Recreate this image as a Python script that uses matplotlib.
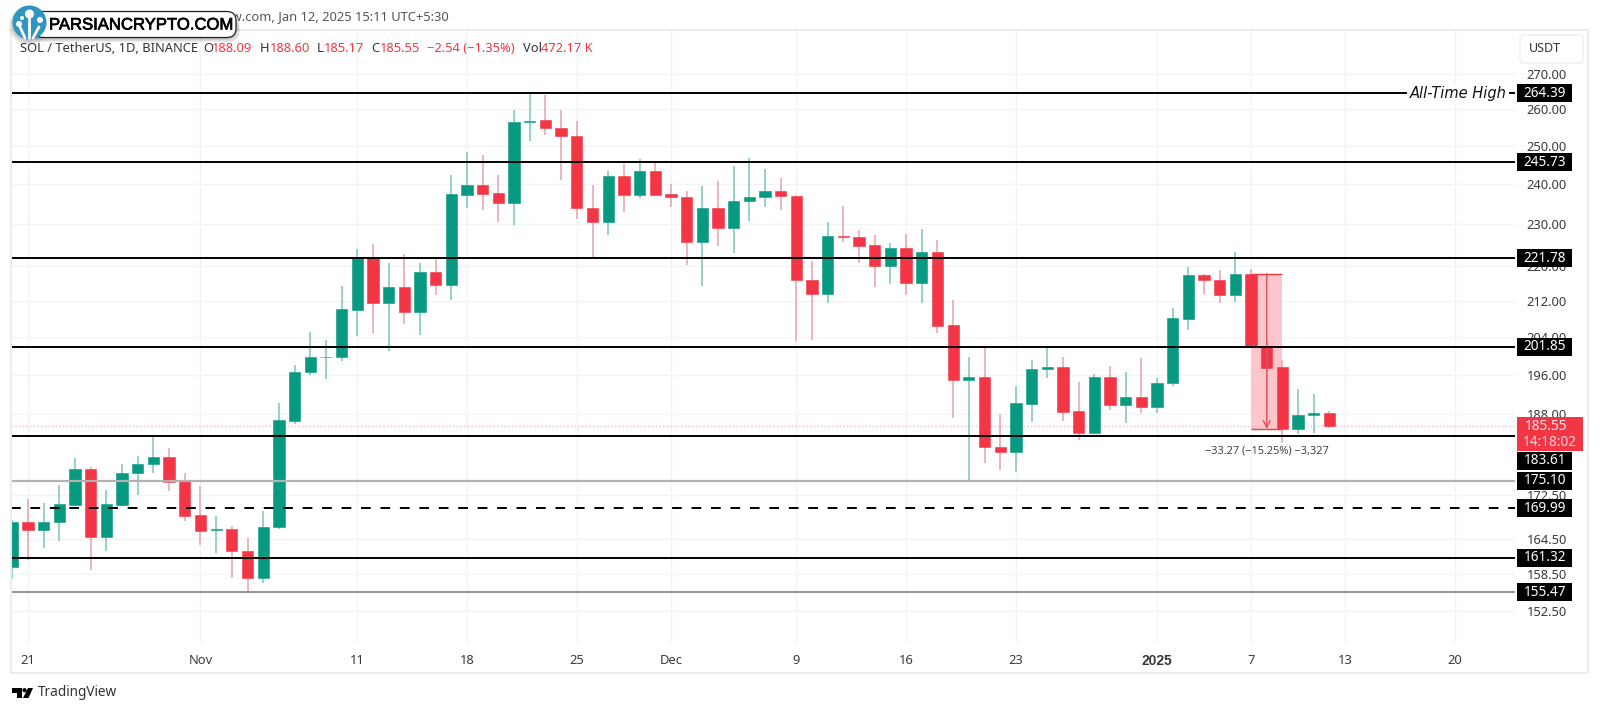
import matplotlib
matplotlib.use('Agg')
import matplotlib.pyplot as plt
import matplotlib.patches as mpatches
import matplotlib.patheffects as pe
from matplotlib.ticker import NullLocator, NullFormatter

# daily candles, first one is Oct 20 (day -1), Oct 21 is day 0
opens = [159.8, 167.5, 166.2, 167.6, 170.7, 177.3, 164.9, 170.7, 176.6, 178.3, 179.5, 175.0, 168.8, 166.2, 166.3, 162.4, 157.9,
         166.6, 186.6, 196.5, 199.7, 199.8, 210.0, 222.1, 211.6, 215.1, 209.6, 218.5, 215.7, 237.4, 239.8, 237.7, 235.3, 256.3,
         256.9, 254.9, 252.7, 234.1, 230.5, 242.0, 237.3, 243.5, 237.5, 236.8, 225.6, 233.9, 229.1, 235.8, 236.7, 238.2, 237.1,
         216.8, 213.6, 227.2, 227.0, 224.9, 219.9, 224.2, 216.0, 223.2, 206.6, 194.8, 195.5, 181.4, 180.5, 190.0, 197.2, 197.5,
         188.5, 184.3, 195.6, 189.8, 191.4, 189.3, 194.2, 208.0, 218.0, 216.8, 213.4, 218.2, 202.1, 197.6, 184.9, 187.8, 188.09]
highs = [167.9, 171.8, 171.0, 174.3, 179.3, 177.6, 173.4, 178.3, 179.8, 183.5, 181.3, 176.6, 174.1, 168.7, 166.8, 164.7, 169.5,
         190.1, 198.1, 205.1, 203.4, 215.3, 224.0, 225.3, 220.6, 222.8, 220.6, 221.6, 242.3, 248.5, 247.6, 242.4, 259.8, 264.39,
         263.9, 259.8, 256.6, 239.8, 243.5, 245.3, 246.6, 245.5, 240.0, 238.2, 239.6, 240.9, 244.8, 246.8, 243.8, 241.6, 237.3,
         221.1, 230.5, 234.5, 228.5, 227.5, 225.4, 227.7, 228.9, 226.1, 212.1, 199.8, 201.8, 188.0, 193.6, 199.1, 201.8, 199.7,
         194.5, 196.1, 197.9, 196.5, 199.5, 195.4, 210.5, 219.8, 218.2, 219.1, 223.2, 219.3, 203.1, 199.1, 193.0, 192.0, 188.60]
lows = [157.7, 161.0, 163.0, 164.2, 170.6, 159.2, 162.5, 170.4, 172.4, 176.5, 173.2, 167.8, 163.5, 162.2, 157.9, 155.4, 157.0,
        166.4, 186.0, 195.9, 195.0, 198.8, 204.3, 204.9, 200.9, 206.8, 204.5, 213.4, 212.1, 234.0, 233.6, 230.5, 229.7, 251.4,
        252.9, 241.0, 231.4, 222.0, 227.5, 232.9, 236.6, 237.2, 234.2, 220.2, 215.3, 224.7, 223.0, 230.9, 234.2, 233.4, 203.2,
        203.4, 211.6, 225.8, 220.8, 215.2, 215.8, 213.4, 211.6, 204.9, 187.2, 175.2, 178.4, 177.0, 176.7, 186.3, 195.2, 186.6,
        182.8, 184.0, 188.7, 186.1, 188.2, 188.2, 193.6, 205.5, 213.6, 211.6, 211.8, 201.9, 188.3, 182.2, 184.0, 184.3, 185.17]
closes = [167.5, 166.2, 167.6, 170.8, 177.3, 164.9, 170.8, 176.6, 178.3, 179.5, 174.9, 168.7, 166.0, 166.3, 162.4, 157.9, 166.7,
          186.7, 196.5, 199.8, 199.8, 210.1, 222.1, 211.6, 215.1, 209.6, 218.5, 215.7, 237.5, 239.8, 237.5, 235.3, 256.3, 256.8,
          254.8, 252.7, 234.0, 230.5, 242.0, 237.4, 243.5, 237.4, 236.7, 225.6, 233.9, 229.1, 235.8, 236.8, 238.2, 236.9, 216.7,
          213.6, 227.2, 226.9, 224.8, 219.9, 224.2, 216.0, 223.2, 206.5, 194.8, 195.5, 181.4, 180.5, 190.1, 197.2, 197.5, 188.4,
          184.3, 195.6, 189.8, 191.4, 189.3, 194.3, 208.1, 218.0, 216.7, 213.4, 218.2, 201.9, 197.4, 185.0, 187.8, 188.1, 185.55]
days = list(range(-1, len(opens) - 1))

x_ticks = [0, 11, 21, 28, 35, 41, 49, 56, 63, 72, 78, 84, 91]
x_labels = ['21', 'Nov', '11', '18', '25', 'Dec', '9', '16', '23', '2025', '7', '13', '20']
y_ticks = [152.5, 158.5, 164.5, 172.5, 188, 196, 204, 212, 220, 230, 240, 250, 260, 270]
y_labels = ['152.50', '158.50', '164.50', '172.50', '188.00', '196.00', '204.00', '212.00', '220.00',
            '230.00', '240.00', '250.00', '260.00', '270.00']

black_levels = [264.39, 245.73, 221.78, 201.85, 183.61, 161.32]
dashed_level = 169.99
grey_levels = [175.10, 155.47]
last_price = 185.55
measure_high = 218.2
measure_low = 185.0
measure_days = [78, 80]

GREEN = '#089981'
RED = '#F23645'
GREEN_WICK = '#7cc5b9'
RED_WICK = '#e5a3ad'

fig = plt.figure(figsize=(16, 7.12), dpi=100, facecolor='white')
plt.rcParams['font.family'] = ['Noto Sans', 'DejaVu Sans']

ax = fig.add_axes([11 / 1600, 1 - 641.7 / 712, 1504 / 1600, 611.7 / 712])
ax.set_yscale('log')
ax.set_xlim(-1.084, 94.83)
ax.set_ylim(147.53, 282.8)
for s in ax.spines.values():
    s.set_visible(False)

ax.yaxis.tick_right()
ax.yaxis.set_minor_locator(NullLocator())
ax.yaxis.set_minor_formatter(NullFormatter())
ax.set_yticks(y_ticks, labels=y_labels)
ax.set_xticks(x_ticks, labels=x_labels)
ax.tick_params(axis='both', length=0, labelsize=9.3, labelcolor='#3a3a3a')
ax.tick_params(axis='y', pad=8.4)
ax.tick_params(axis='x', pad=9)
year_label = ax.get_xticklabels()[9]
year_label.set_family('Liberation Sans')
year_label.set_fontweight('bold')
year_label.set_fontsize(10)
ax.grid(True, color='#f2f3f5', linewidth=1)
ax.set_axisbelow(True)

# measure tool sits behind the candles
ax.fill_between(measure_days, measure_low, measure_high, color='#fcc6ca', linewidth=0, zorder=1)
ax.hlines([measure_high, measure_low], measure_days[0], measure_days[1], color=RED, linewidth=1, zorder=1.1)

for d, o, h, l, c in zip(days, opens, highs, lows, closes):
    up = c >= o
    ax.vlines(d, l, h, color=GREEN_WICK if up else RED_WICK, linewidth=1.1, zorder=2)
    ax.bar(d, abs(c - o), bottom=min(o, c), width=0.72, color=GREEN if up else RED,
           edgecolor=GREEN if up else RED, linewidth=0.4, zorder=2.2)

ax.annotate('', xy=(79, measure_low), xytext=(79, measure_high),
            arrowprops=dict(arrowstyle='->', color='#e0505c', lw=1, shrinkA=0, shrinkB=0, mutation_scale=12), zorder=2.5)
ax.text(79, 180.7, '\u221233.27 (\u221215.25%) \u22123,327', ha='center', va='center', fontsize=7.9, color='#444444', zorder=6)

for level in black_levels:
    ax.axhline(level, color='black', linewidth=1.4, zorder=3)
ax.axhline(dashed_level, color='black', linewidth=1.4, dashes=(5, 5), zorder=3)
ax.axhline(grey_levels[0], color='#b2b2b2', linewidth=1.6, zorder=3)
ax.axhline(grey_levels[1], color='#777777', linewidth=1.1, zorder=3)
ax.axhline(last_price, color='#eebcc0', linewidth=1, linestyle=':', zorder=1.5)

ax.text(88.1, black_levels[0], 'All-Time High', family='DejaVu Sans', style='italic', fontsize=10.5, color='#111111',
        va='center', ha='left', zorder=4, bbox=dict(facecolor='white', edgecolor='none', pad=2))

# everything around the plot is laid out in image pixels
over = fig.add_axes([0, 0, 1, 1], zorder=5)
over.set_xlim(0, 1600)
over.set_ylim(712, 0)
over.axis('off')
over.patch.set_visible(False)


def price_y(price):
    return 712 - ax.transData.transform((0, price))[1]


# outer frame
over.add_patch(mpatches.Rectangle((11, 30), 1577, 642.5, fill=False, edgecolor='#ececec', linewidth=1.5))

# price labels on the right, 183.61 is pushed down under the red box
for level in [264.39, 245.73, 221.78, 201.85, 183.61, 175.10, 169.99, 161.32, 155.47]:
    y = price_y(level)
    if level == 183.61:
        y = 461
    over.add_patch(mpatches.Rectangle((1517, y - 9), 55, 18, facecolor='black', edgecolor='none'))
    over.text(1545, y, f'{level:.2f}', color='white', fontsize=9.8, ha='center', va='center')

over.add_patch(mpatches.Rectangle((1517, 417), 66, 34, facecolor=RED, edgecolor='none'))
over.text(1546, 426.5, '185.55', color='#fde8ea', fontsize=9.8, ha='center', va='center')
over.text(1550, 442, '14:18:02', color='#fbd0d4', fontsize=9.8, ha='center', va='center')

over.add_patch(mpatches.FancyBboxPatch((1520, 35), 63, 28, boxstyle='round,pad=0,rounding_size=4',
                                       facecolor='white', edgecolor='#eeeeee', linewidth=1))
over.text(1545, 48.5, 'USDT', color='#333333', fontsize=9, ha='center', va='center')

# header, its left part is hidden by the watermark
over.text(449, 17, 'TradingView.com, Jan 12, 2025 15:11 UTC+5:30', color='#555555', fontsize=9.3, ha='right', va='center')
header = [(20.5, 'SOL / TetherUS, 1D, BINANCE', '#333333'),
          (203, 'O', '#333333'), (212, '188.09', RED),
          (260, 'H', '#333333'), (270, '188.60', RED),
          (317, 'L', '#333333'), (324, '185.17', RED),
          (371, 'C', '#333333'), (380, '185.55', RED),
          (427, '\u22122.54 (\u22121.35%)', RED),
          (523, 'Vol', '#333333'), (541, '472.17 K', RED)]
for hx, txt, col in header:
    over.text(hx, 48, txt, color=col, fontsize=9.3, ha='left', va='center')

# watermark goes over the header text
for i in range(4):
    over.add_patch(mpatches.FancyBboxPatch((33 - i, 13 + i), 204 + 2 * i, 26, boxstyle='round,pad=0,rounding_size=12',
                                           facecolor='black', edgecolor='none', alpha=0.07, zorder=4))
    over.add_patch(mpatches.Circle((29, 24 + i * 0.5), 17 + i, facecolor='black', edgecolor='none', alpha=0.06, zorder=4))
over.add_patch(mpatches.FancyBboxPatch((34, 11.5), 202, 26, boxstyle='round,pad=0,rounding_size=9',
                                       facecolor='white', edgecolor='#222222', linewidth=0.9, zorder=4.2))
over.add_patch(mpatches.Circle((29.5, 22.5), 17, facecolor='#2f95c1', edgecolor='none', zorder=4.4))
for x0, y0, x1, y1 in [(29, 38, 29, 25), (25, 38, 20, 27), (33, 38, 39, 27), (29, 27, 29, 17)]:
    over.plot([x0, x1], [y0, y1], color='white', linewidth=2, solid_capstyle='round', zorder=4.6)
for cx, cy, r in [(29.5, 14, 4.5), (19, 24, 3), (40, 20, 3), (22, 18, 2)]:
    over.add_patch(mpatches.Circle((cx, cy), r, facecolor='white', edgecolor='none', zorder=4.6))
over.text(49, 25, 'PARSIANCRYPTO.COM', color='black', fontsize=12, family='Liberation Sans', ha='left', va='center', zorder=5,
          path_effects=[pe.withStroke(linewidth=0.5, foreground='black')])

# TradingView logo
over.add_patch(mpatches.Polygon([(12, 688), (22, 688), (22, 698), (17, 698), (17, 692.5), (12, 692.5)], facecolor='black', edgecolor='none'))
over.add_patch(mpatches.Circle((24.5, 690.2), 2.1, facecolor='black', edgecolor='none'))
over.add_patch(mpatches.Polygon([(28, 688), (33, 688), (28.5, 698), (23, 698)], facecolor='black', edgecolor='none'))
over.text(38, 693, 'TradingView', color='#333333', fontsize=9.8, ha='left', va='center')

fig.savefig('out.png', dpi=100)
plt.close()
